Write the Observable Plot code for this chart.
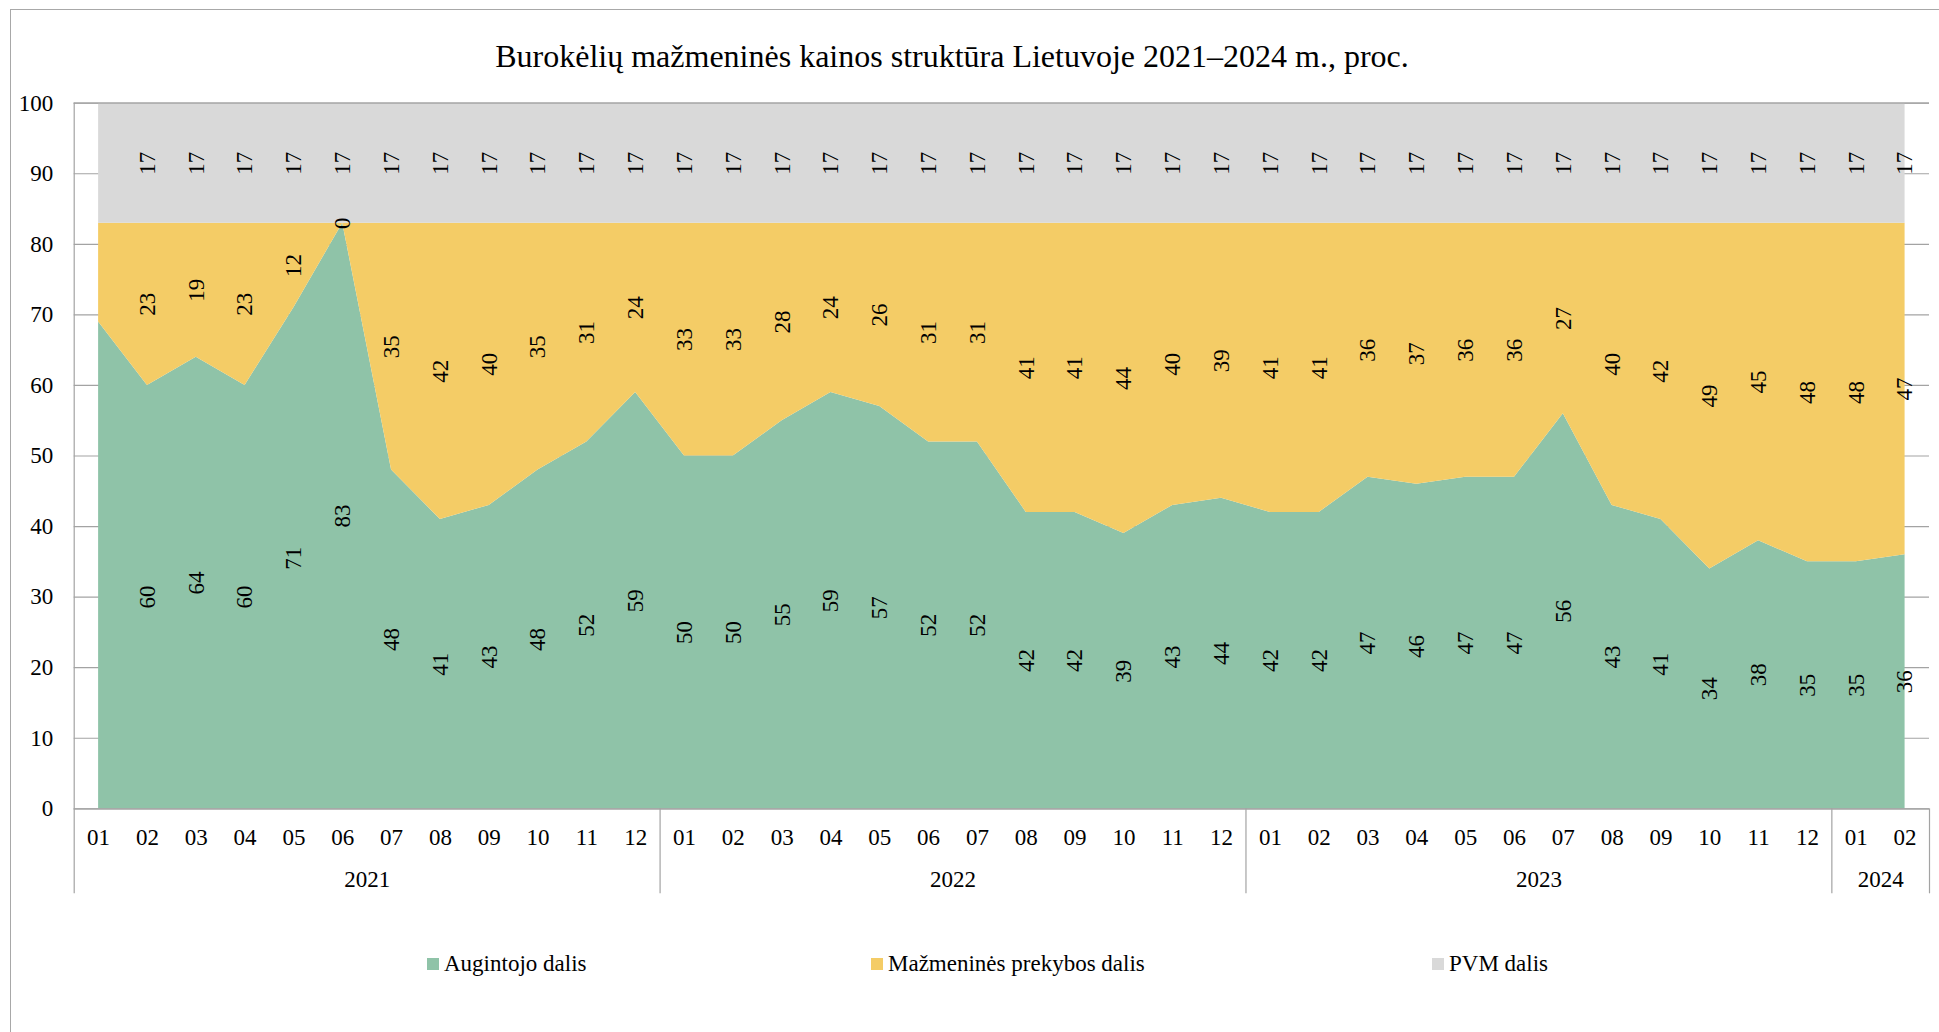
<!DOCTYPE html>
<html><head><meta charset="utf-8">
<script src="https://cdn.jsdelivr.net/npm/d3@7"></script>
<script src="https://cdn.jsdelivr.net/npm/@observablehq/plot@0.6"></script>
<style>
html,body{margin:0;padding:0;background:#fff;overflow:hidden;width:1939px;height:1032px}
body{font-family:"Liberation Serif","Times New Roman",serif;color:#000}
#frameTop{position:absolute;left:10px;top:9px;width:1929px;height:0;border-top:1.5px solid #a8a8a8}
#frameLeft{position:absolute;left:10px;top:9px;width:0;height:1023px;border-left:1.5px solid #a8a8a8}
#title{position:absolute;left:352px;width:1200px;top:40px;text-align:center;font-size:32px;line-height:32px;font-family:"Liberation Serif","Times New Roman",serif}
#chart{position:absolute;left:0;top:80px}
.leg{position:absolute;top:952px;font-size:23px;line-height:23px;white-space:nowrap;font-family:"Liberation Serif","Times New Roman",serif}
.sw{position:absolute;width:12px;height:12px}
</style></head><body>
<div id="frameTop"></div>
<div id="frameLeft"></div>
<div id="title">Burokėlių mažmeninės kainos struktūra Lietuvoje 2021–2024 m., proc.</div>
<div id="chart"></div>
<div id="legend"></div>
<script>
// ---- data ----
const monthLabels = ["01","02","03","04","05","06","07","08","09","10","11","12",
  "01","02","03","04","05","06","07","08","09","10","11","12",
  "01","02","03","04","05","06","07","08","09","10","11","12",
  "01","02"];
const yearLabels = ["2021","2022","2023","2024"];
const yearCounts = [12, 12, 12, 2];
const seriesNames = ["Augintojo dalis", "Mažmeninės prekybos dalis", "PVM dalis"];
const seriesColors = ["#8fc3a8", "#f4cc66", "#d9d9d9"];
const grower = [69,60,64,60,71,83,48,41,43,48,52,59,
  50,50,55,59,57,52,52,42,42,39,43,44,
  42,42,47,46,47,47,56,43,41,34,38,35,
  35,36];
const retail = [14,23,19,23,12,0,35,42,40,35,31,24,
  33,33,28,24,26,31,31,41,41,44,40,39,
  41,41,36,37,36,36,27,40,42,49,45,48,
  48,47];
const vat = [17,17,17,17,17,17,17,17,17,17,17,17,
  17,17,17,17,17,17,17,17,17,17,17,17,
  17,17,17,17,17,17,17,17,17,17,17,17,
  17,17];
const yTicks = [0,10,20,30,40,50,60,70,80,90,100];

// ---- derived tables ----
const seriesValues = [grower, retail, vat];
const rows = [];
seriesValues.forEach((vals, k) => vals.forEach((v, i) => rows.push({i, v, s: seriesNames[k]})));

const boundaries = [];
const yearCenters = [];
const yearByCenter = new Map();
let start = 0;
yearCounts.forEach((n, k) => {
  boundaries.push(start - 0.5);
  const c = start + (n - 1) / 2;
  yearCenters.push(c);
  yearByCenter.set(c, yearLabels[k]);
  start += n;
});
boundaries.push(start - 0.5);
const monthIdx = monthLabels.map((_, i) => i);

const lineColor = "#a3a3a3";
const font = '"Liberation Serif", "Times New Roman", serif';

const chart = Plot.plot({
  width: 1939,
  height: 830,
  marginTop: 22.7,
  marginBottom: 101.7,
  marginLeft: 73.7,
  marginRight: 10,
  style: {fontFamily: font, fontSize: "23px", color: "#000", background: "transparent", overflow: "visible"},
  x: {type: "linear", domain: [-0.5, monthLabels.length - 0.5], label: null},
  y: {domain: [0, 100], label: null},
  color: {domain: seriesNames, range: seriesColors},
  marks: [
    Plot.gridY({ticks: yTicks, stroke: lineColor, strokeOpacity: 1, strokeWidth: 1.2}),
    Plot.areaY(rows, {x: "i", y: "v", z: "s", fill: "s"}),
    Plot.ruleY([100], {stroke: lineColor, strokeWidth: 1.2}),
    Plot.ruleY([0], {stroke: lineColor, strokeWidth: 1.2}),
    Plot.ruleX([boundaries[0]], {y1: 0, y2: 100, stroke: lineColor, strokeWidth: 1.2}),
    Plot.axisY({ticks: yTicks, tickSize: 0, tickPadding: 21, label: null, fontSize: 23, fontFamily: font}),
    Plot.axisX({ticks: boundaries, tickSize: 85, tickFormat: () => "", stroke: lineColor, strokeWidth: 1.2, label: null}),
    Plot.axisX({ticks: monthIdx, tickSize: 0, tickPadding: 19.7, tickFormat: i => monthLabels[i], label: null, fontSize: 23, fontFamily: font}),
    Plot.axisX({ticks: yearCenters, tickSize: 0, tickPadding: 62, tickFormat: c => yearByCenter.get(c), label: null, fontSize: 23, fontFamily: font}),
    Plot.text(rows, Plot.stackY({x: "i", y: "v", z: "s", text: "v", rotate: -90, fontSize: 23, fontFamily: font, fill: "#000", filter: d => d.i > 0}))
  ]
});
document.getElementById("chart").appendChild(chart);

// legend
const legendX = [427, 871, 1432];
const legend = document.getElementById("legend");
seriesNames.forEach((name, k) => {
  const sw = document.createElement("div");
  sw.className = "sw";
  sw.style.background = seriesColors[k];
  sw.style.left = legendX[k] + "px";
  sw.style.top = "958px";
  legend.appendChild(sw);
  const t = document.createElement("div");
  t.className = "leg";
  t.style.left = (legendX[k] + 17) + "px";
  t.textContent = name;
  legend.appendChild(t);
});
</script>
<div style="position:absolute;left:1932px;top:12px;width:7px;height:1020px;background:#fff;z-index:10"></div>
</body></html>
